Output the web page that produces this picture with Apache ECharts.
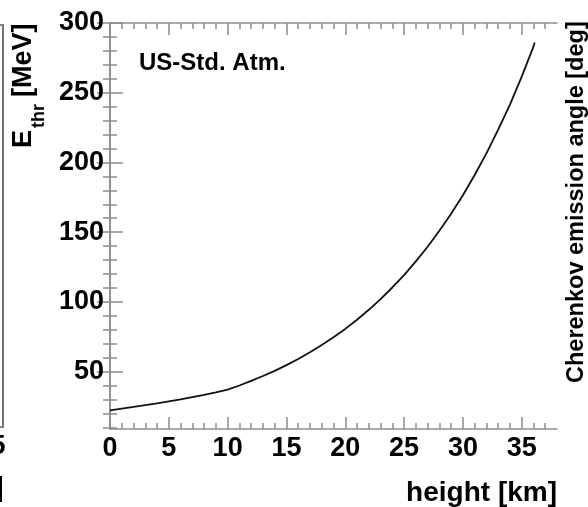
<!DOCTYPE html>
<html><head><meta charset="utf-8">
<script src="https://cdn.jsdelivr.net/npm/echarts@6/dist/echarts.min.js"></script>
<style>html,body{margin:0;padding:0;background:#fff}#c{width:588px;height:507px}</style>
</head><body><div id="c"></div>
<script>
// ---- data ----
const heightKm = [0,1,2,3,4,5,6,7,8,9,10,11,12,13,14,15,16,17,18,19,20,21,22,23,24,25,26,27,28,29,30,31,32,33,34,35,36,36.1];
const eThr = [22.2,23.4,24.6,25.9,27.2,28.6,30.0,31.6,33.2,35.0,37.0,40.0,43.3,46.8,50.5,54.6,59.0,63.8,69.0,74.6,80.6,87.2,94.3,102.0,110.3,119.2,129.0,139.5,151.0,163.2,176.5,191.0,206.5,223.5,241.5,261.5,283.0,286.0];
const xMajorTicks = [0,5,10,15,20,25,30,35];
const xMinorTicks = [1,2,3,4,6,7,8,9,11,12,13,14,16,17,18,19,21,22,23,24,26,27,28,29,31,32,33,34,36,37];
const yMajorTicks = [50,100,150,200,250,300];
const yMinorTicks = [10,20,30,40,60,70,80,90,110,120,130,140,160,170,180,190,210,220,230,240,260,270,280,290];
const xRange = [0, 38];
const yRange = [8.8, 300];
// neighbouring (cropped) panel on the left
const leftXLabels = [35];
const leftXRange = [0, 36.5];
const leftYRange = [0, 30];

const FONT = 'Liberation Sans, Arial, Helvetica, sans-serif';
const AX = '#8c8c8c';
const lineStyle = {color: AX, width: 1.5};

function xAx(opts) {
  return Object.assign({
    type: 'value', gridIndex: 0, min: xRange[0], max: xRange[1], position: 'bottom',
    axisLine: {show: false, lineStyle}, splitLine: {show: false},
    axisTick: {show: false}, axisLabel: {show: false}
  }, opts);
}
function yAx(opts) {
  return Object.assign({
    type: 'value', gridIndex: 0, min: yRange[0], max: yRange[1], position: 'left',
    axisLine: {show: false, lineStyle}, splitLine: {show: false},
    axisTick: {show: false}, axisLabel: {show: false}
  }, opts);
}
const labelStyle = {show: true, color: '#000', fontFamily: FONT, fontWeight: 'bold', fontSize: 27};

const option = {
  animation: false,
  backgroundColor: '#fff',
  grid: [
    {left: 110, top: 23, width: 447, height: 406, show: false, outerBoundsMode: 'none', containLabel: false},
    {left: -300, top: 25, width: 303, height: 402, show: true, backgroundColor: 'transparent',
     borderColor: '#6f6f6f', borderWidth: 2, outerBoundsMode: 'none', containLabel: false}
  ],
  xAxis: [
    xAx({axisLine: {show: true, lineStyle}, axisTick: {show: true, inside: true, length: 12, lineStyle, customValues: xMajorTicks},
         axisLabel: Object.assign({margin: 6, customValues: xMajorTicks}, labelStyle)}),
    xAx({axisTick: {show: true, inside: true, length: 6, lineStyle, customValues: xMinorTicks}}),
    xAx({position: 'top', axisLine: {show: true, lineStyle}, axisTick: {show: true, inside: true, length: 12, lineStyle, customValues: xMajorTicks}}),
    xAx({position: 'top', axisTick: {show: true, inside: true, length: 6, lineStyle, customValues: xMinorTicks}}),
    // left cropped panel
    {type: 'value', gridIndex: 1, min: leftXRange[0], max: leftXRange[1], position: 'bottom',
     axisLine: {show: true, lineStyle}, splitLine: {show: false}, axisTick: {show: false},
     axisLabel: Object.assign({margin: 6, customValues: leftXLabels}, labelStyle)},
    {type: 'value', gridIndex: 1, min: leftXRange[0], max: leftXRange[1], position: 'top',
     axisLine: {show: true, lineStyle}, splitLine: {show: false}, axisTick: {show: false}, axisLabel: {show: false}}
  ],
  yAxis: [
    yAx({axisLine: {show: true, lineStyle}, axisTick: {show: true, inside: true, length: 13, lineStyle, customValues: yMajorTicks},
         axisLabel: Object.assign({margin: 6, customValues: yMajorTicks}, labelStyle)}),
    yAx({axisTick: {show: true, inside: true, length: 7, lineStyle, customValues: yMinorTicks}}),
    yAx({position: 'right', axisLine: {show: true, lineStyle}, axisTick: {show: true, inside: true, length: 13, lineStyle, customValues: yMajorTicks}}),
    yAx({position: 'right', axisTick: {show: true, inside: true, length: 7, lineStyle, customValues: yMinorTicks}}),
    {type: 'value', gridIndex: 1, min: leftYRange[0], max: leftYRange[1], interval: 1, position: 'right',
     axisLine: {show: true, lineStyle: {color: '#6f6f6f', width: 2}}, splitLine: {show: false},
     axisTick: {show: true, inside: true, length: 6, lineStyle: {color: '#6f6f6f', width: 1.5}}, axisLabel: {show: false}}
  ],
  series: [{
    type: 'line', xAxisIndex: 0, yAxisIndex: 0, showSymbol: false, symbol: 'none',
    lineStyle: {color: '#111', width: 1.8},
    data: heightKm.map((h, i) => [h, eThr[i]])
  }],
  graphic: [
    {type: 'text', x: 139, y: 63.5, style: {text: 'US-Std. Atm.', font: 'bold 24px ' + FONT, fill: '#000', align: 'left', verticalAlign: 'middle'}},
    {type: 'text', x: 23.6, y: 148, rotation: Math.PI / 2, style: {text: 'E', font: 'bold 27px ' + FONT, fill: '#000', align: 'left', verticalAlign: 'middle'}},
    {type: 'text', x: 38.7, y: 128, rotation: Math.PI / 2, style: {text: 'thr', font: 'bold 18px ' + FONT, fill: '#000', align: 'left', verticalAlign: 'middle'}},
    {type: 'text', x: 23.6, y: 97, rotation: Math.PI / 2, style: {text: '[MeV]', font: 'bold 27px ' + FONT, fill: '#000', align: 'left', verticalAlign: 'middle'}},
    {type: 'text', x: 576.8, y: 383, rotation: Math.PI / 2, style: {text: 'Cherenkov emission angle [deg]', font: 'bold 23.5px ' + FONT, fill: '#000', align: 'left', verticalAlign: 'middle'}},
    {type: 'text', x: 557, y: 493, style: {text: 'height [km]', font: 'bold 28px ' + FONT, fill: '#000', align: 'right', verticalAlign: 'middle'}},
    {type: 'text', x: 3.5, y: 488, style: {text: 'height [km]', font: 'bold 28px ' + FONT, fill: '#000', align: 'right', verticalAlign: 'middle'}}
  ]
};
const chart = echarts.init(document.getElementById('c'), null, {renderer: 'canvas'});
chart.setOption(option);
</script></body></html>
